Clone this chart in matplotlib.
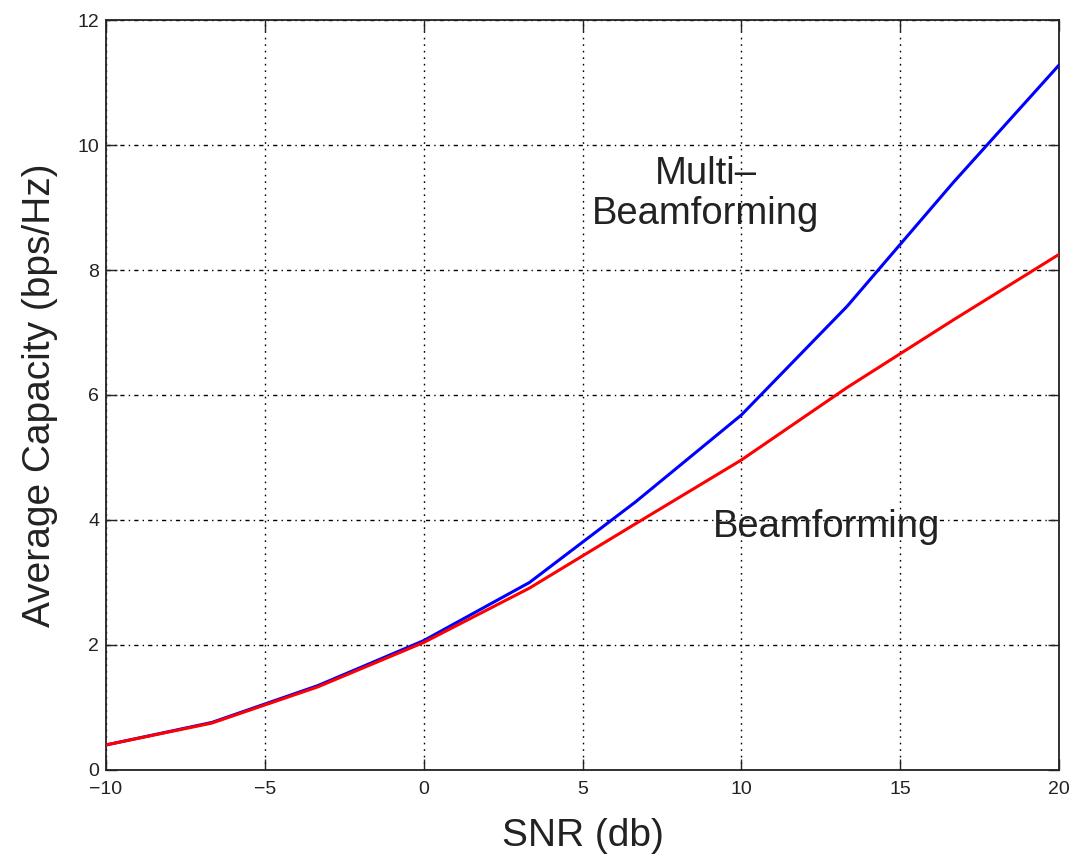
import matplotlib
matplotlib.use("Agg")
import matplotlib.pyplot as plt

snr_db = [-10, -6.67, -3.33, 0, 3.33, 6.67, 10, 13.33, 16.67, 20]
multi_beamforming = [0.40, 0.76, 1.35, 2.07, 3.00, 4.29, 5.68, 7.42, 9.40, 11.28]
beamforming = [0.40, 0.75, 1.33, 2.04, 2.91, 3.94, 4.96, 6.12, 7.20, 8.25]

x_ticks = [-10, -5, 0, 5, 10, 15, 20]
y_ticks = [0, 2, 4, 6, 8, 10, 12]

plt.rcParams['font.family'] = ['Liberation Sans', 'DejaVu Sans']

fig = plt.figure(figsize=(10.72, 8.6), dpi=100)
ax = fig.add_axes([0.0989, 0.1047, 0.8890, 0.8720])

ax.plot(snr_db, multi_beamforming, color='#0000ff', lw=2.2, zorder=3)
ax.plot(snr_db, beamforming, color='#ff0000', lw=2.2, zorder=4)

ax.set_xlim(-10, 20)
ax.set_ylim(0, 12)
ax.set_xticks(x_ticks)
ax.set_yticks(y_ticks)

ax.xaxis.grid(True, color='black', lw=1.0, linestyle=(0, (1.2, 3.5)))
ax.yaxis.grid(True, color='black', lw=1.0, linestyle=(0, (3, 3, 1, 3)))
ax.set_axisbelow(True)

ax.tick_params(direction='in', length=8, width=1.0, labelsize=14, top=True, right=True,
               color='#222222', labelcolor='#222222')
ax.tick_params(axis='x', pad=8)
ax.tick_params(axis='y', pad=5)
for s in ax.spines.values():
    s.set_linewidth(1.3)
    s.set_color('#222222')

ax.set_xlabel('SNR (db)', fontsize=28, color='#222222', labelpad=14)
ax.set_ylabel('Average Capacity (bps/Hz)', fontsize=28, color='#222222', labelpad=14)

ax.text(8.87, 8.74, 'Multi\u2013\nBeamforming', fontsize=27.5, color='#222222',
        ha='center', va='baseline', multialignment='center', linespacing=1.13)
ax.text(12.68, 3.72, 'Beamforming', fontsize=27.5, color='#222222', ha='center', va='baseline')

fig.savefig('out.png', dpi=100)
